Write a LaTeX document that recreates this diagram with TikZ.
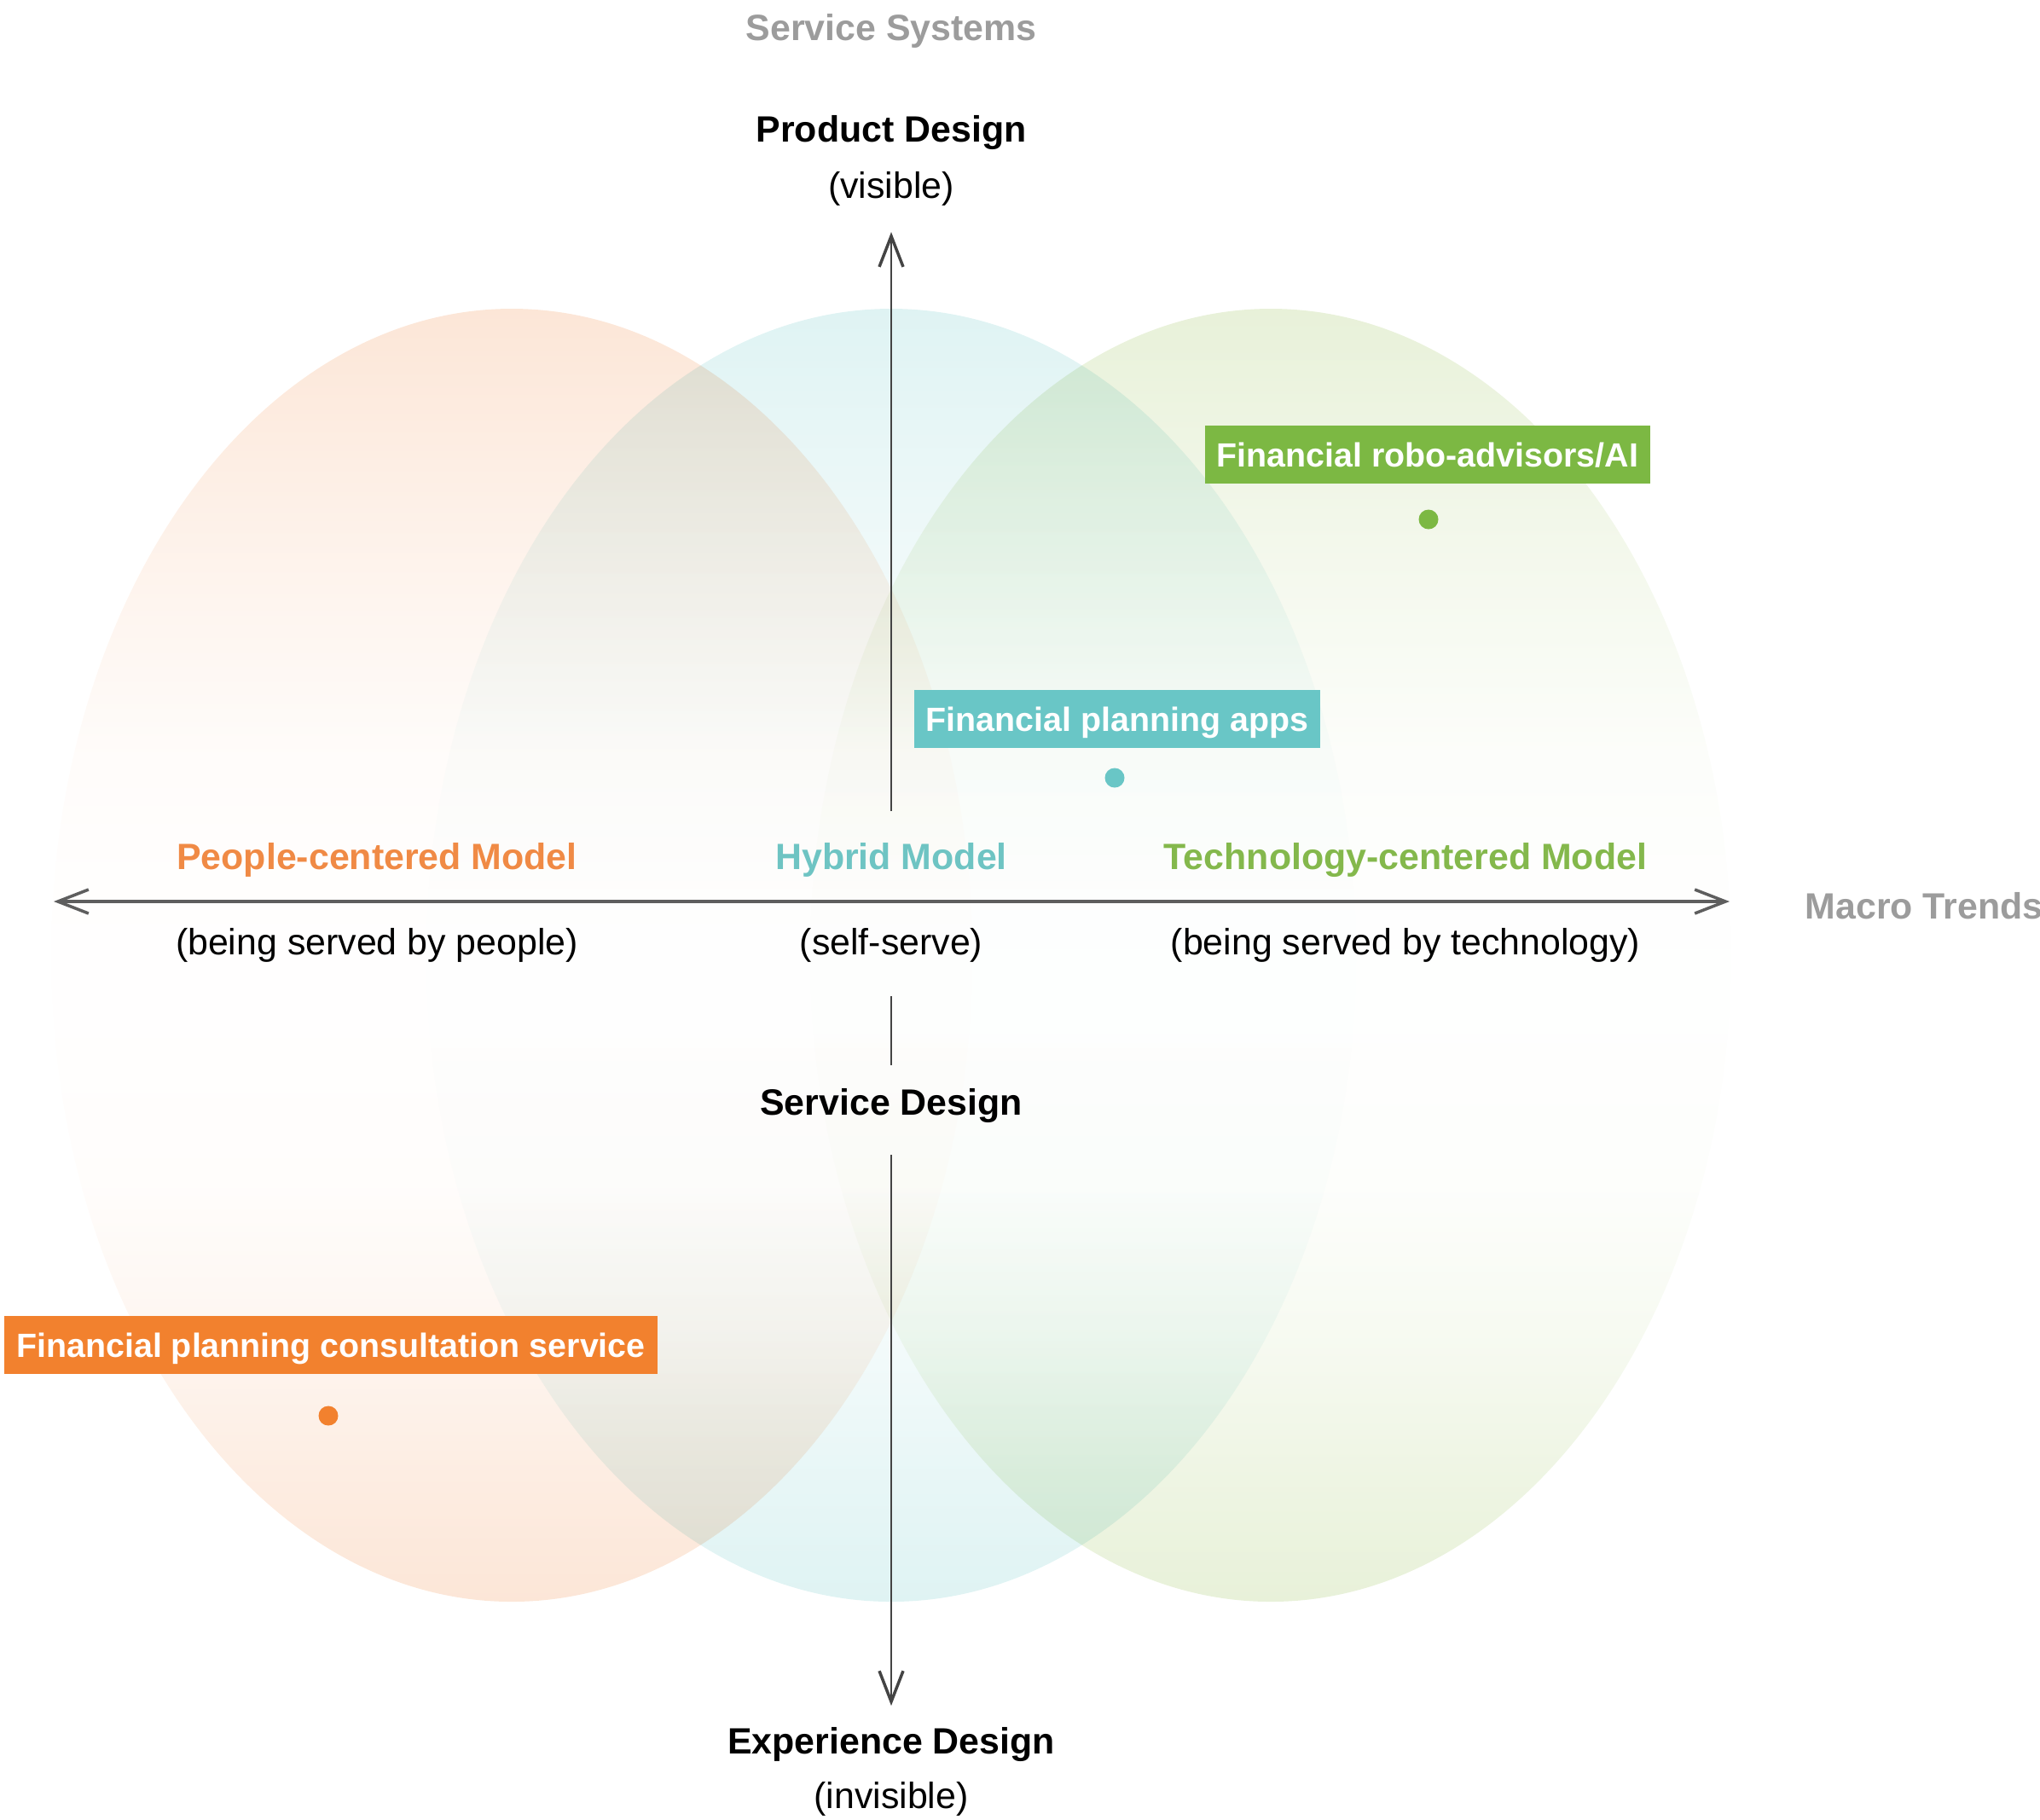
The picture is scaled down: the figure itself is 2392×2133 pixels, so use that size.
\documentclass[tikz,border=0pt]{standalone}
\usepackage{fontspec}
\setmainfont{Liberation Sans}
\usetikzlibrary{arrows.meta}
\definecolor{orangeT}{HTML}{FCE6D7}
\definecolor{tealT}{HTML}{DFF3F3}
\definecolor{greenT}{HTML}{E8F1D9}
\definecolor{boxOrange}{HTML}{F2812E}
\definecolor{boxTeal}{HTML}{69C6C6}
\definecolor{boxGreen}{HTML}{7CB843}
\definecolor{txtOrange}{HTML}{F08A45}
\definecolor{txtTeal}{HTML}{6EC4C3}
\definecolor{txtGreen}{HTML}{84B84C}
\definecolor{grayT}{HTML}{9C9C9C}
\definecolor{axisV}{HTML}{444444}
\definecolor{axisH}{HTML}{5E5E5E}
% the path's bounding box maps onto the 25bp..75bp band of the shading
\newcommand\defvshade[2]{\pgfdeclareverticalshading{#1}{100bp}{color(0bp)=(#2); color(25bp)=(#2); color(30bp)=(#2!72!white); color(35bp)=(#2!38!white); color(41bp)=(#2!10!white); color(47.5bp)=(#2!3!white); color(52.5bp)=(#2!4!white); color(58bp)=(#2!14!white); color(64bp)=(#2!42!white); color(69.5bp)=(#2!70!white); color(75bp)=(#2); color(100bp)=(#2)}}
\defvshade{shOr}{orangeT}
\defvshade{shTe}{tealT}
\defvshade{shGr}{greenT}
\tikzset{mybarb/.tip={Straight Barb[length=3.6mm,width=2.8mm,line width=1pt]}}
\begin{document}
\begin{tikzpicture}[x=0.1mm,y=-0.1mm,
  tint/.style={blend mode=multiply},
  rtext/.style={font=\fontsize{12.2}{14}\selectfont, inner sep=0pt},
  btitle/.style={font=\fontsize{12.2}{14}\selectfont\bfseries, inner sep=0pt},
  gtitle/.style={btitle, text=grayT},
  tag/.style={font=\fontsize{11.2}{13}\selectfont\bfseries, text=white, minimum height=6.8mm, inner xsep=1.4mm, inner ysep=0pt, text height=8pt, text depth=0pt},
  dot/.style={circle, minimum size=2.3mm, inner sep=0pt},
  vaxis/.style={draw=axisV, line width=0.6pt},
  haxis/.style={draw=axisH, line width=1.1pt}
]
\useasboundingbox (0,0) rectangle (2392,2133);
% shaded ellipses
\shade[tint, shading=shOr] (600,1120) ellipse [x radius=54mm, y radius=75.8mm];
\shade[tint, shading=shTe] (1045,1120) ellipse [x radius=54.5mm, y radius=75.8mm];
\shade[tint, shading=shGr] (1490,1120) ellipse [x radius=54mm, y radius=75.8mm];
% labels
\node[gtitle] (ss) at (1045,36) {Service Systems};
\node[btitle] (pd) at (1045,155) {Product Design};
\node[rtext] (vis) at (1045,221) {(visible)};
\node[btitle, text=txtOrange] (pcm) at (442,1008) {People-centered Model};
\node[btitle, text=txtTeal] (hm) at (1045,1008) {Hybrid Model};
\node[btitle, text=txtGreen] (tcm) at (1648,1008) {Technology-centered Model};
\node[rtext] (bsp) at (442,1108) {(being served by people)};
\node[rtext] (ssv) at (1045,1108) {(self-serve)};
\node[rtext] (bst) at (1648,1108) {(being served by technology)};
\node[gtitle, anchor=west] (mt) at (2116,1062) {Macro Trends};
\node[btitle] (sd) at (1045,1296) {Service Design};
\node[btitle] (ed) at (1045,2045) {Experience Design};
\node[rtext] (inv) at (1045,2109) {(invisible)};
% axes
\coordinate (vA) at (1045,951);
\coordinate (vB) at (1045,272);
\coordinate (vC) at (1045,1168);
\coordinate (vD) at (1045,1249);
\coordinate (vE) at (1045,1354);
\coordinate (vF) at (1045,2000);
\coordinate (hL) at (63,1057);
\coordinate (hR) at (2028,1057);
\draw[vaxis, -{mybarb}] (vA) -- (vB);
\draw[vaxis] (vC) -- (vD);
\draw[vaxis, -{mybarb}] (vE) -- (vF);
\draw[haxis, {mybarb}-{mybarb}] (hL) -- (hR);
% tags and dots
\node[tag, fill=boxGreen] (bg) at (1674,533) {Financial robo-advisors/AI};
\node[dot, fill=boxGreen] (dg) at (1675,609) {};
\node[tag, fill=boxTeal] (bt) at (1310,843) {Financial planning apps};
\node[dot, fill=boxTeal] (dt) at (1307,912) {};
\node[tag, fill=boxOrange] (bo) at (388,1577) {Financial planning consultation service};
\node[dot, fill=boxOrange] (do) at (385,1660) {};
\end{tikzpicture}
\end{document}
